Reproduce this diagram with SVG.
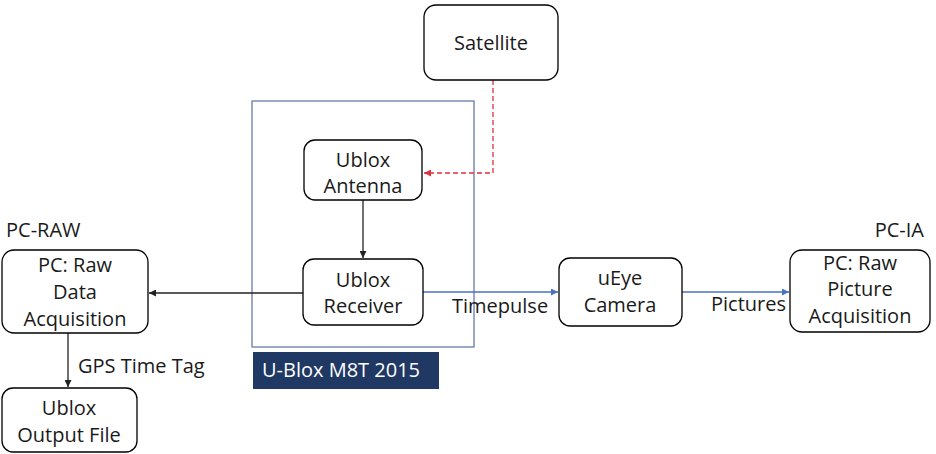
<svg xmlns="http://www.w3.org/2000/svg" width="936" height="454" viewBox="0 0 936 454">
<style>
.box{fill:#fff;stroke:#000;stroke-width:1.3}
.t{font-family:"Open Sans","Liberation Sans",sans-serif;font-size:20px;fill:#1a1a1a;text-anchor:middle}
.l{font-family:"Open Sans","Liberation Sans",sans-serif;font-size:20px;fill:#1a1a1a}
.blk{stroke:#222;stroke-width:1.3;fill:none}
.blu{stroke:#4a72c0;stroke-width:1.3;fill:none}
.red{stroke:#e0303a;stroke-width:1.3;fill:none;stroke-dasharray:5 3}
</style>
<defs>
<marker id="ak" viewBox="0 0 10 10" refX="10" refY="5" markerWidth="7" markerHeight="7" markerUnits="userSpaceOnUse" orient="auto"><path d="M0,0L10,5L0,10z" fill="#222"/></marker>
<marker id="ab" viewBox="0 0 10 10" refX="10" refY="5" markerWidth="7" markerHeight="7" markerUnits="userSpaceOnUse" orient="auto"><path d="M0,0L10,5L0,10z" fill="#4a72c0"/></marker>
<marker id="ar" viewBox="0 0 10 10" refX="10" refY="5" markerWidth="7" markerHeight="7" markerUnits="userSpaceOnUse" orient="auto"><path d="M0,0L10,5L0,10z" fill="#e0303a"/></marker>
</defs>
<rect width="936" height="454" fill="#fff"/>
<g id="ublox-m8t">
<rect x="252" y="101" width="222" height="246" fill="none" stroke="#5d6fa6" stroke-width="1.2"/>
<rect x="253" y="352" width="186" height="37" fill="#1f3864"/>
<text x="262" y="377" class="l" style="fill:#fff">U-Blox M8T 2015</text>
</g>
<g id="connectors">
<path class="red" d="M493,80V173H424" marker-end="url(#ar)"/>
<path class="blk" d="M363,200V258" marker-end="url(#ak)"/>
<path class="blk" d="M303,293H149" marker-end="url(#ak)"/>
<path class="blu" d="M423,292H558" marker-end="url(#ab)"/>
<path class="blu" d="M682,292H789" marker-end="url(#ab)"/>
<path class="blk" d="M68,333V387" marker-end="url(#ak)"/>
<text x="452" y="313" class="l">Timepulse</text>
<text x="711" y="311" class="l">Pictures</text>
<text x="78" y="373" class="l">GPS Time Tag</text>
</g>
<g id="satellite">
<rect class="box" x="424" y="5" width="134" height="75" rx="12"/>
<text x="491" y="50" class="t">Satellite</text>
</g>
<g id="antenna">
<rect class="box" x="304" y="140" width="118" height="60" rx="11"/>
<text x="363" y="167" class="t">Ublox</text>
<text x="363" y="193" class="t">Antenna</text>
</g>
<g id="receiver">
<rect class="box" x="303" y="259" width="120" height="66" rx="11"/>
<text x="363" y="287" class="t">Ublox</text>
<text x="363" y="313" class="t">Receiver</text>
</g>
<g id="pc-raw">
<text x="6" y="237" class="l">PC-RAW</text>
<rect class="box" x="2" y="250" width="146" height="83" rx="12"/>
<text x="75" y="272" class="t">PC: Raw</text>
<text x="75" y="299" class="t">Data</text>
<text x="75" y="326" class="t">Acquisition</text>
</g>
<g id="output-file">
<rect class="box" x="2" y="388" width="135" height="64" rx="11"/>
<text x="69" y="415" class="t">Ublox</text>
<text x="69" y="442" class="t">Output File</text>
</g>
<g id="camera">
<rect class="box" x="559" y="258" width="123" height="68" rx="11"/>
<text x="620" y="285" class="t">uEye</text>
<text x="620" y="312" class="t">Camera</text>
</g>
<g id="pc-ia">
<text x="924" y="237" class="l" style="text-anchor:end">PC-IA</text>
<rect class="box" x="790" y="250" width="140" height="82" rx="12"/>
<text x="860" y="270" class="t">PC: Raw</text>
<text x="860" y="296" class="t">Picture</text>
<text x="860" y="323" class="t">Acquisition</text>
</g>
</svg>
